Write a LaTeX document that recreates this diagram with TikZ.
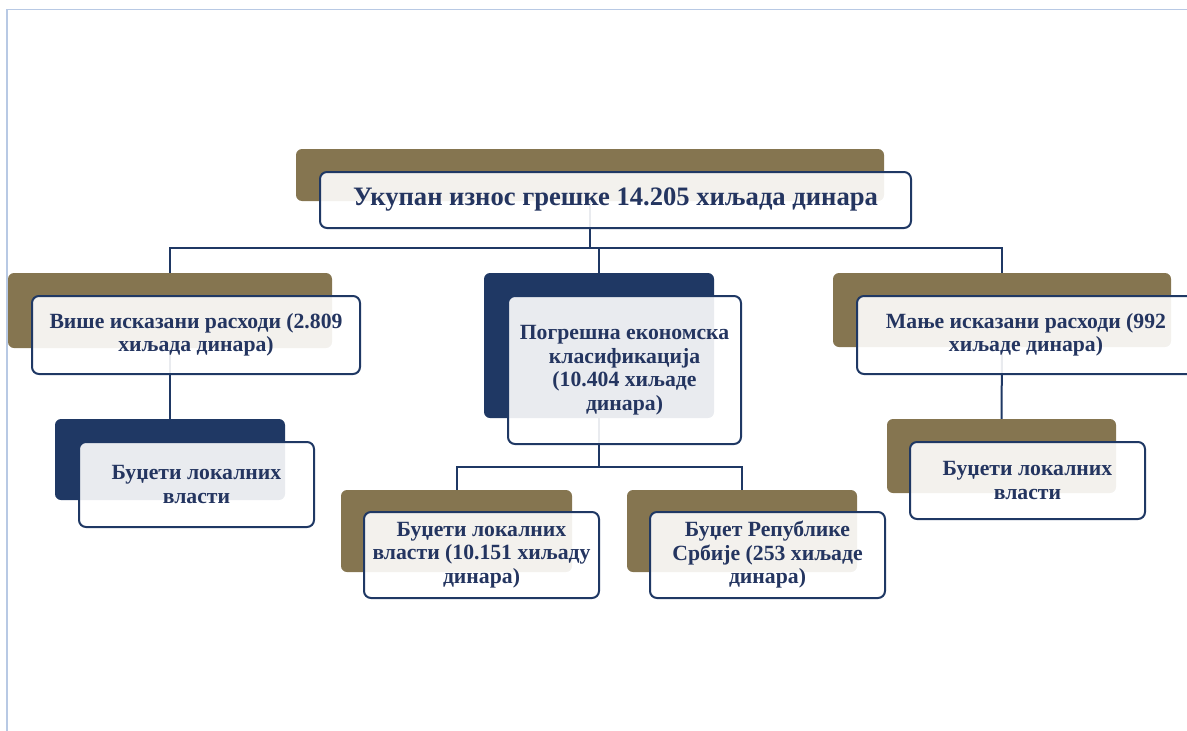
\documentclass[tikz,border=0pt]{standalone}
\usepackage{fontspec}
\setmainfont{Liberation Serif}
\usetikzlibrary{backgrounds}
\definecolor{olivec}{HTML}{857550}
\definecolor{navyc}{HTML}{1F3864}
\definecolor{txtc}{HTML}{243560}
\definecolor{framec}{HTML}{B8C9E4}
\begin{document}
\begin{tikzpicture}[x=1pt,y=-1pt,
  oliveback/.style={fill=olivec, rounded corners=6pt, inner sep=0pt},
  navyback/.style={fill=navyc, rounded corners=6pt, inner sep=0pt},
  front/.style={draw=navyc, line width=2pt, fill=white, fill opacity=0.9, text opacity=1,
    rounded corners=7pt, inner sep=0pt, align=center, text=txtc,
    font=\bfseries\fontsize{21.7}{23.5}\selectfont},
  conn/.style={draw=navyc, line width=2pt}]
\useasboundingbox (0,0) rectangle (1187,731);
\draw[framec, line width=1.5pt] (7,731) -- (7,9.5) -- (1187,9.5);

% top
\node[oliveback, minimum width=588pt, minimum height=52pt] (tb) at (590,175) {};
\node[front, minimum width=591pt, minimum height=56pt, font=\bfseries\fontsize{26.6}{30}\selectfont] (t) at (615.5,200) {Укупан износ грешке 14.205 хиљада динара};

% left
\node[oliveback, minimum width=324pt, minimum height=75pt] (lb) at (170,310.5) {};
\node[front, minimum width=328pt, minimum height=78pt] (l) at (196,335) {Више исказани расходи (2.809\\хиљада динара)};
\node[navyback, minimum width=230pt, minimum height=81pt] (lcb) at (170,459.5) {};
\node[front, minimum width=235pt, minimum height=85pt] (lc) at (196.5,484.5) {Буџети локалних\\власти};

% middle
\node[navyback, minimum width=230pt, minimum height=145pt] (mb) at (599,345.5) {};
\node[front, minimum width=233pt, minimum height=148pt] (m) at (624.5,370) {Погрешна економска\\класификација\\(10.404 хиљаде\\динара)};
\node[oliveback, minimum width=231pt, minimum height=82pt] (blb) at (456.5,531) {};
\node[front, minimum width=235pt, minimum height=86pt] (bl) at (481.5,555) {Буџети локалних\\власти (10.151 хиљаду\\динара)};
\node[oliveback, minimum width=230pt, minimum height=82pt] (brb) at (742,531) {};
\node[front, minimum width=235pt, minimum height=86pt] (br) at (767.5,555) {Буџет Републике\\Србије (253 хиљаде\\динара)};

% right
\node[oliveback, minimum width=338pt, minimum height=74pt] (rb) at (1002,310) {};
\node[front, minimum width=338pt, minimum height=78pt] (r) at (1026,335) {Мање исказани расходи (992\\хиљаде динара)};
\node[oliveback, minimum width=229pt, minimum height=74pt] (rcb) at (1001.5,456) {};
\node[front, minimum width=235pt, minimum height=77pt] (rc) at (1027.5,480.5) {Буџети локалних\\власти};

\coordinate (bus1) at (0,248);
\coordinate (bus2) at (0,467);
\begin{scope}[on background layer]
\draw[conn] (tb.center) -- (tb.center |- bus1);
\draw[conn] (lb.center) -- (lb.center |- bus1) -- (rb.center |- bus1) -- (rb.center);
\draw[conn] (mb.center) -- (mb.center |- bus1);
\draw[conn] (lb.center) -- (lcb.center);
\draw[conn] (rb.center) -- (rcb.center);
\draw[conn] (mb.center) -- (mb.center |- bus2);
\draw[conn] (blb.center) -- (blb.center |- bus2) -- (brb.center |- bus2) -- (brb.center);
\end{scope}
\end{tikzpicture}
\end{document}
